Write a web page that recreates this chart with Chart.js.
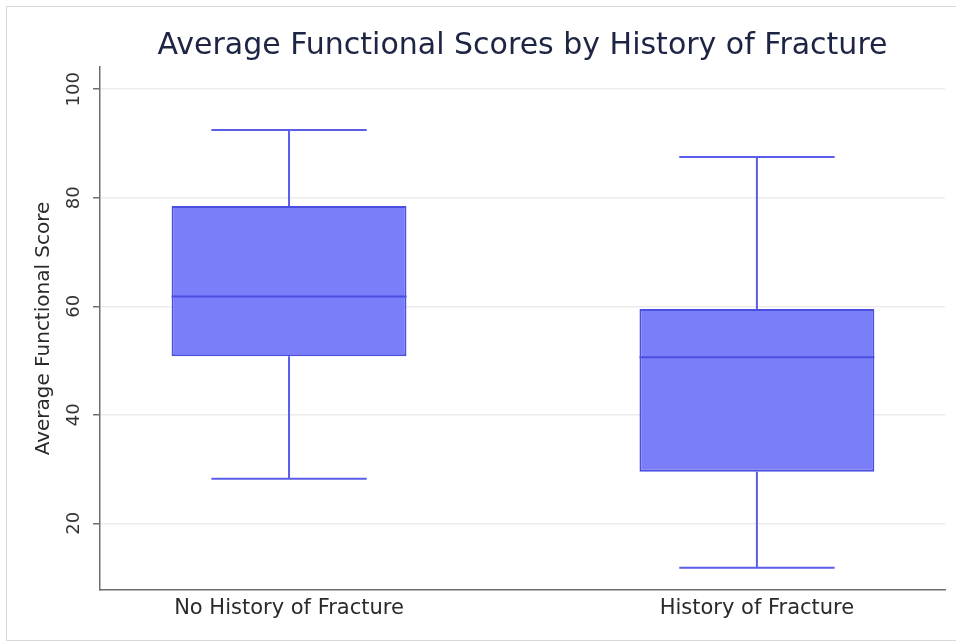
<!DOCTYPE html>
<html>
<head>
<meta charset="utf-8">
<script src="https://cdn.jsdelivr.net/npm/chart.js@4/dist/chart.umd.min.js"></script>
<style>
  html, body { margin: 0; padding: 0; background: #ffffff; }
  #wrap { position: relative; width: 956px; height: 643px; overflow: hidden; }
  #frame { position: absolute; left: 6px; top: 6px; width: 970px; height: 633px;
           border: 1px solid #d9d9d9; pointer-events: none; }
  canvas { position: absolute; left: 0; top: 0; }
</style>
</head>
<body>
<div id="wrap">
  <div id="frame"></div>
  <canvas id="chart" width="956" height="643"></canvas>
</div>
<script>
// Groups and their five-number summaries (whisker ends, quartiles, median)
const categories   = ['No History of Fracture', 'History of Fracture'];
const whiskerLow   = [28.2, 11.8];
const quartile1    = [50.8, 29.5];
const medianValue  = [61.8, 50.6];
const quartile3    = [78.5, 59.5];
const whiskerHigh  = [92.5, 87.5];
const yTickValues  = [20, 40, 60, 80, 100];

const FONT = "'DejaVu Sans', 'Liberation Sans', Arial, sans-serif";
const BOX_FILL = '#7b7ef9';
const BOX_EDGE = '#4a4fe2';
const WHISKER = '#5a5ee8';
const CAP_HALF = 0.166;   // half width of whisker caps, in x units
const BOX_HALF = 0.251;   // half width of boxes, in x units

// Whiskers, caps and median lines, placed through the chart's scales
const boxDetails = {
  id: 'boxDetails',
  afterDatasetsDraw(chart) {
    const { ctx, scales: { x, y } } = chart;
    ctx.save();
    ctx.lineCap = 'butt';
    categories.forEach((_, i) => {
      const pos = i + 1;
      const cx = x.getPixelForValue(pos);
      const capL = x.getPixelForValue(pos - CAP_HALF);
      const capR = x.getPixelForValue(pos + CAP_HALF);
      const boxL = x.getPixelForValue(pos - BOX_HALF);
      const boxR = x.getPixelForValue(pos + BOX_HALF);
      ctx.strokeStyle = WHISKER;
      ctx.lineWidth = 2;
      ctx.beginPath();
      ctx.moveTo(cx, y.getPixelForValue(quartile3[i]));
      ctx.lineTo(cx, y.getPixelForValue(whiskerHigh[i]));
      ctx.moveTo(cx, y.getPixelForValue(quartile1[i]));
      ctx.lineTo(cx, y.getPixelForValue(whiskerLow[i]));
      ctx.moveTo(capL, y.getPixelForValue(whiskerHigh[i]));
      ctx.lineTo(capR, y.getPixelForValue(whiskerHigh[i]));
      ctx.moveTo(capL, y.getPixelForValue(whiskerLow[i]));
      ctx.lineTo(capR, y.getPixelForValue(whiskerLow[i]));
      ctx.stroke();
      ctx.strokeStyle = BOX_EDGE;
      ctx.beginPath();
      ctx.moveTo(boxL, y.getPixelForValue(medianValue[i]));
      ctx.lineTo(boxR, y.getPixelForValue(medianValue[i]));
      ctx.stroke();
    });
    ctx.restore();
  },
  // vertical tick labels on the value axis
  afterDraw(chart) {
    const { ctx, scales: { y } } = chart;
    ctx.save();
    ctx.fillStyle = '#333333';
    ctx.font = "18px " + FONT;
    ctx.textAlign = 'center';
    ctx.textBaseline = 'middle';
    yTickValues.forEach(v => {
      ctx.save();
      ctx.translate(74, y.getPixelForValue(v));
      ctx.rotate(-Math.PI / 2);
      ctx.fillText(String(v), 0, 0);
      ctx.restore();
    });
    ctx.restore();
  }
};

new Chart(document.getElementById('chart'), {
  type: 'bar',
  data: {
    datasets: [{
      data: categories.map((c, i) => ({ x: i + 1, y: [quartile1[i], quartile3[i]] })),
      backgroundColor: BOX_FILL,
      borderColor: BOX_EDGE,
      borderWidth: 2,
      borderSkipped: false,
      categoryPercentage: 1,
      barPercentage: BOX_HALF * 2
    }]
  },
  options: {
    responsive: false,
    animation: false,
    layout: { padding: { left: 0, right: 11, top: 0, bottom: 0 } },
    plugins: {
      legend: { display: false },
      tooltip: { enabled: false },
      title: {
        display: true,
        fullSize: false,
        text: 'Average Functional Scores by History of Fracture',
        color: '#1d2444',
        font: { family: FONT, size: 30, weight: 'normal' },
        padding: { top: 28, bottom: 3 }
      }
    },
    scales: {
      x: {
        type: 'linear',
        offset: false,
        min: 0.596,
        max: 2.402,
        afterBuildTicks(scale) { scale.ticks = categories.map((c, i) => ({ value: i + 1 })); },
        afterFit(scale) { scale.height = 53; },
        ticks: {
          color: '#2a2a2a',
          font: { family: FONT, size: 21 },
          padding: 6,
          maxRotation: 0,
          callback: (v) => categories[Math.round(v) - 1] || ''
        },
        grid: { display: false, drawTicks: false, offset: false },
        border: { display: true, color: '#6e6e6e', width: 1.5 }
      },
      y: {
        min: 7.7,
        max: 104.1,
        afterBuildTicks(scale) { scale.ticks = yTickValues.map(v => ({ value: v })); },
        afterFit(scale) { scale.width = 100; },
        ticks: { display: false, includeBounds: false },
        grid: { color: '#ececec', lineWidth: 1.5, tickLength: 7, tickColor: '#6e6e6e', tickWidth: 1.5 },
        border: { display: true, color: '#6e6e6e', width: 1.5 },
        title: {
          display: true,
          text: 'Average Functional Score',
          color: '#2a2a2a',
          font: { family: FONT, size: 20 },
          padding: { top: 32, bottom: 0 }
        }
      }
    }
  },
  plugins: [boxDetails]
});
</script>
</body>
</html>
